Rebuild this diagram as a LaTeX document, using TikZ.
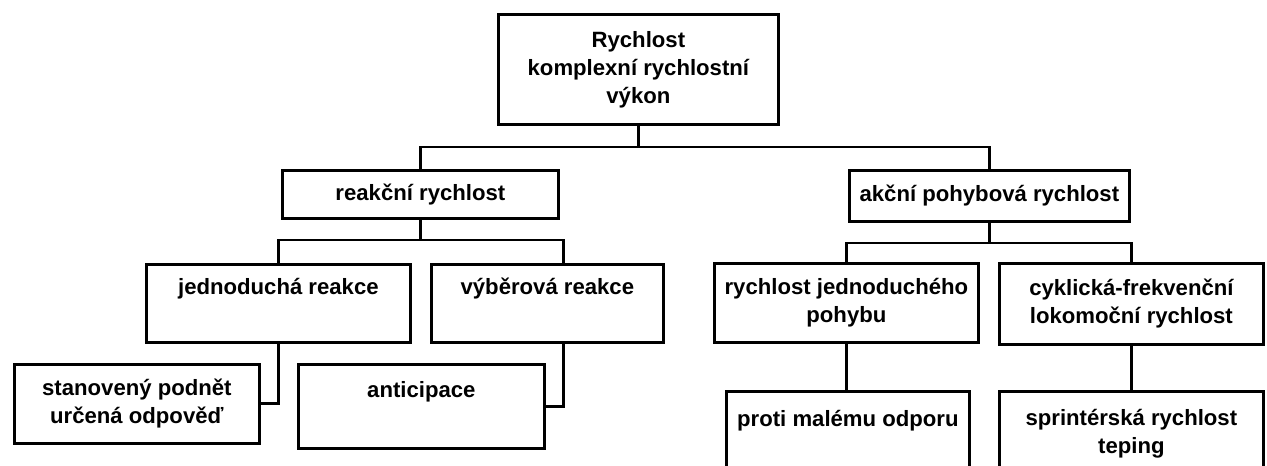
\documentclass[tikz,border=0pt]{standalone}
\usepackage{fontspec}
\setmainfont{Liberation Sans}

\begin{document}
\begin{tikzpicture}[x=0.02cm, y=-0.02cm]
		\tikzstyle{Box}		= [draw, rectangle, line width=1.6pt, inner sep=0pt, align=center, anchor=north west, font=\bfseries\fontsize{12.6}{16}\selectfont]
		\tikzstyle{Line}	= [line width=1.6pt]

		\clip (0,0) rectangle (1267,466);

		\node (top) at (497,13) [Box, minimum width=5.6cm, minimum height=2.2cm] {Rychlost\\komplexní rychlostní\\výkon};
		\node (reak) at (281,169) [Box, minimum width=5.52cm, minimum height=0.96cm] {reakční rychlost};
		\node (akcni) at (848,169) [Box, minimum width=5.6cm, minimum height=1.02cm] {akční pohybová rychlost};
		\node (jedn) at (145,263) [Box, minimum width=5.28cm, text height=0.61cm, text depth=0.95cm] {jednoduchá reakce};
		\node (vyber) at (430,263) [Box, minimum width=4.64cm, text height=0.61cm, text depth=0.95cm] {výběrová reakce};
		\node (rjp) at (713,262) [Box, minimum width=5.28cm, minimum height=1.58cm] {rychlost jednoduchého\\pohybu};
		\node (cykl) at (998,262) [Box, minimum width=5.28cm, minimum height=1.62cm] {cyklická-frekvenční\\lokomoční rychlost};
		\node (stan) at (13,363) [Box, minimum width=4.9cm, minimum height=1.58cm] {stanovený podnět\\určená odpověď};
		\node (antic) at (297,363) [Box, minimum width=4.92cm, text height=0.67cm, text depth=1.01cm] {anticipace};
		\node (proti) at (725,390) [Box, minimum width=4.86cm, text height=0.71cm, text depth=0.99cm] {proti malému odporu};
		\node (sprint) at (998,390) [Box, minimum width=5.28cm, minimum height=1.7cm] {sprintérská rychlost\\teping};

		\coordinate (s1) at (top.south |- 0,147);
		\coordinate (s2) at (reak.south |- 0,240);
		\coordinate (s3) at (akcni.south |- 0,243);

		\draw [Line] (top.south) -- (s1);
		\draw [Line] (reak.north) |- (s1) -| (akcni.north);
		\draw [Line] (reak.south) -- (s2);
		\draw [Line] (jedn.north) |- (s2) -| ([xshift=0.32cm]vyber.north);
		\draw [Line] (akcni.south) -- (s3);
		\draw [Line] (rjp.north) |- (s3) -| (cykl.north);
		\draw [Line] (jedn.south) |- (stan.east);
		\draw [Line] ([xshift=0.32cm]vyber.south) |- (antic.east);
		\draw [Line] (rjp.south) -- (rjp.south |- proti.north);
		\draw [Line] (cykl.south) -- (cykl.south |- sprint.north);
	\end{tikzpicture}
\end{document}
